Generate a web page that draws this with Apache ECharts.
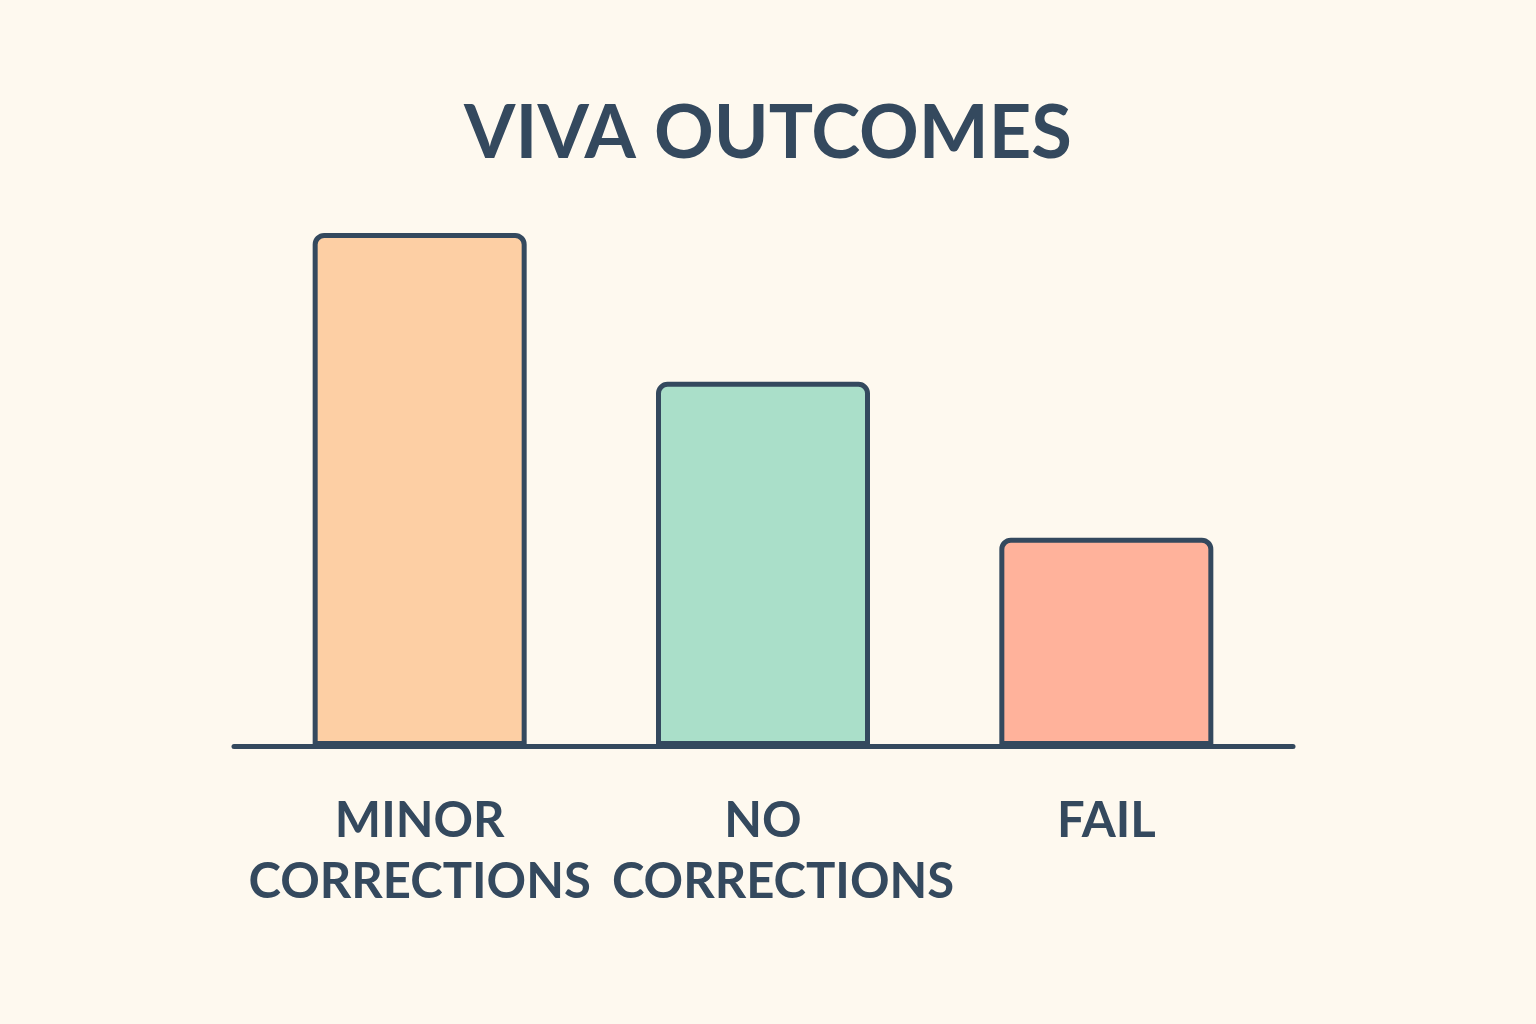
<!DOCTYPE html>
<html>
<head>
<meta charset="utf-8">
<script src="https://cdn.jsdelivr.net/npm/echarts@6/dist/echarts.min.js"></script>
<style>
  html, body { margin: 0; padding: 0; background: #fef9ef; }
  #chart { width: 1536px; height: 1024px; }
</style>
</head>
<body>
<div id="chart"></div>
<script>
const categories = ['MINOR\nCORRECTIONS', 'NO\nCORRECTIONS', 'FAIL'];
const values = [50, 35.5, 20.3];
const barColors = ['#fdcfa4', '#aadfc9', '#ffb29b'];

const ink = '#34495e';
const labelFont = {
  color: ink,
  fontFamily: 'Lato',
  fontWeight: 'bold',
  fontSize: 49,
  lineHeight: 61
};
const chart = echarts.init(document.getElementById('chart'));

chart.setOption({
  backgroundColor: '#fef9ef',
  title: {
    text: 'VIVA OUTCOMES',
    left: 'center',
    top: 92,
    textStyle: {
      color: ink,
      fontFamily: 'Lato',
      fontWeight: 'bold',
      fontSize: 74
    }
  },
  grid: [
    { left: 248, right: 258, top: 233, bottom: 278 },
    { left: 234, right: 243, top: 233, bottom: 278 }
  ],
  xAxis: [
    {
      type: 'category',
      gridIndex: 0,
      data: categories,
      axisLine: { show: false },
      axisTick: { show: false },
      axisLabel: Object.assign({}, labelFont, {
        margin: 45,
        interval: 0,
        // the middle label's second line sits a little to the right in the original
        formatter: function (val, idx) {
          if (idx !== 1) return val;
          const parts = val.split('\n');
          return parts[0] + '\n{shift|' + parts[1] + '}';
        },
        rich: {
          shift: Object.assign({}, labelFont, { padding: [0, 0, 0, 40] })
        }
      })
    },
    {
      type: 'category',
      gridIndex: 1,
      data: categories,
      axisLine: { lineStyle: { color: ink, width: 5, cap: 'round' } },
      axisTick: { show: false },
      axisLabel: { show: false }
    }
  ],
  yAxis: [
    { type: 'value', gridIndex: 0, min: 0, max: 50, show: false },
    { type: 'value', gridIndex: 1, min: 0, max: 50, show: false }
  ],
  series: [
    {
      type: 'bar',
      xAxisIndex: 1,
      yAxisIndex: 1,
      data: [],
      silent: true
    },
    {
      type: 'bar',
      xAxisIndex: 0,
      yAxisIndex: 0,
      barWidth: 214,
      z: 1,
      data: values.map((v, i) => ({
        value: v,
        itemStyle: { color: barColors[i] }
      })),
      itemStyle: {
        borderColor: ink,
        borderWidth: 5,
        borderRadius: [9, 9, 0, 0]
      }
    }
  ]
});
</script>
</body>
</html>
